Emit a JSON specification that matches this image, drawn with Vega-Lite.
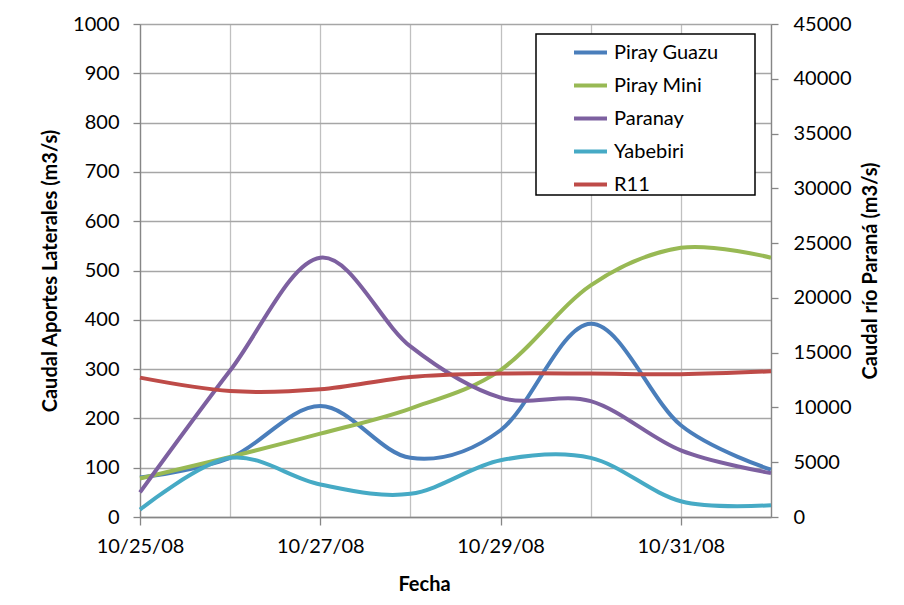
{
  "$schema": "https://vega.github.io/schema/vega-lite/v6.json",
  "width": 631,
  "height": 493,
  "autosize": "none",
  "padding": {"left": 140, "top": 24, "right": 133, "bottom": 88},
  "background": "white",
  "config": {
    "font": "Lato",
    "view": {"stroke": null},
    "axis": {
      "labelFont": "Lato",
      "titleFont": "Lato",
      "labelFontSize": 20,
      "titleFontSize": 20,
      "titleFontWeight": "bold",
      "labelColor": "#000000",
      "titleColor": "#000000",
      "domainColor": "#868686",
      "tickColor": "#868686",
      "domainWidth": 1.3,
      "tickWidth": 1.3
    }
  },
  "data": {
    "values": [
      {"date": "2008/10/25", "series": "Piray Guazu", "value": 80},
      {"date": "2008/10/26", "series": "Piray Guazu", "value": 120},
      {"date": "2008/10/27", "series": "Piray Guazu", "value": 225},
      {"date": "2008/10/28", "series": "Piray Guazu", "value": 120},
      {"date": "2008/10/29", "series": "Piray Guazu", "value": 176},
      {"date": "2008/10/30", "series": "Piray Guazu", "value": 392},
      {"date": "2008/10/31", "series": "Piray Guazu", "value": 186},
      {"date": "2008/11/01", "series": "Piray Guazu", "value": 96},
      {"date": "2008/10/25", "series": "Piray Mini", "value": 78},
      {"date": "2008/10/26", "series": "Piray Mini", "value": 122},
      {"date": "2008/10/27", "series": "Piray Mini", "value": 169},
      {"date": "2008/10/28", "series": "Piray Mini", "value": 220},
      {"date": "2008/10/29", "series": "Piray Mini", "value": 298},
      {"date": "2008/10/30", "series": "Piray Mini", "value": 470},
      {"date": "2008/10/31", "series": "Piray Mini", "value": 546},
      {"date": "2008/11/01", "series": "Piray Mini", "value": 526},
      {"date": "2008/10/25", "series": "Paranay", "value": 50},
      {"date": "2008/10/26", "series": "Paranay", "value": 297},
      {"date": "2008/10/27", "series": "Paranay", "value": 526},
      {"date": "2008/10/28", "series": "Paranay", "value": 346},
      {"date": "2008/10/29", "series": "Paranay", "value": 242},
      {"date": "2008/10/30", "series": "Paranay", "value": 235},
      {"date": "2008/10/31", "series": "Paranay", "value": 135},
      {"date": "2008/11/01", "series": "Paranay", "value": 89},
      {"date": "2008/10/25", "series": "Yabebiri", "value": 15},
      {"date": "2008/10/26", "series": "Yabebiri", "value": 120},
      {"date": "2008/10/27", "series": "Yabebiri", "value": 66},
      {"date": "2008/10/28", "series": "Yabebiri", "value": 47},
      {"date": "2008/10/29", "series": "Yabebiri", "value": 115},
      {"date": "2008/10/30", "series": "Yabebiri", "value": 120},
      {"date": "2008/10/31", "series": "Yabebiri", "value": 32},
      {"date": "2008/11/01", "series": "Yabebiri", "value": 24},
      {"date": "2008/10/25", "series": "R11", "value": 12720},
      {"date": "2008/10/26", "series": "R11", "value": 11500},
      {"date": "2008/10/27", "series": "R11", "value": 11650},
      {"date": "2008/10/28", "series": "R11", "value": 12780},
      {"date": "2008/10/29", "series": "R11", "value": 13090},
      {"date": "2008/10/30", "series": "R11", "value": 13090},
      {"date": "2008/10/31", "series": "R11", "value": 13030},
      {"date": "2008/11/01", "series": "R11", "value": 13300}
    ]
  },
  "layer": [
    {
      "transform": [{"filter": "datum.series !== 'R11'"}],
      "mark": {"type": "line", "interpolate": "cardinal", "strokeWidth": 4},
      "encoding": {
        "x": {
          "field": "date",
          "type": "temporal",
          "scale": {"domain": [{"year": 2008, "month": 10, "date": 25}, {"year": 2008, "month": 11, "date": 1}]},
          "axis": {
            "values": [
              {"year": 2008, "month": 10, "date": 25},
              {"year": 2008, "month": 10, "date": 26},
              {"year": 2008, "month": 10, "date": 27},
              {"year": 2008, "month": 10, "date": 28},
              {"year": 2008, "month": 10, "date": 29},
              {"year": 2008, "month": 10, "date": 30},
              {"year": 2008, "month": 10, "date": 31},
              {"year": 2008, "month": 11, "date": 1}
            ],
            "labelExpr": "dayofyear(datum.value) % 2 == 1 ? timeFormat(datum.value, '%m/%d/%y') : ''",
            "tickOpacity": {"condition": {"test": "dayofyear(datum.value) % 2 == 1", "value": 1}, "value": 0},
            "grid": true,
            "gridColor": "#c0c0c0",
            "gridWidth": 1.3,
            "tickSize": 8,
            "labelPadding": 11,
            "labelFlush": false,
            "labelOverlap": false,
            "title": "Fecha",
            "titleX": 284,
            "titleY": 73,
            "titleBaseline": "alphabetic"
          }
        },
        "y": {
          "field": "value",
          "type": "quantitative",
          "scale": {"domain": [0, 1000]},
          "axis": {
            "values": [0, 100, 200, 300, 400, 500, 600, 700, 800, 900, 1000],
            "format": "d",
            "grid": true,
            "gridColor": "#a6a6a6",
            "gridWidth": 1.3,
            "tickSize": 7,
            "labelPadding": 14,
            "title": "Caudal Aportes Laterales (m3/s)",
            "titlePadding": 12
          }
        },
        "color": {
          "field": "series",
          "type": "nominal",
          "scale": {
            "domain": ["Piray Guazu", "Piray Mini", "Paranay", "Yabebiri", "R11"],
            "range": ["#4A7EBB", "#98B954", "#7D60A0", "#46AAC5", "#BE4B48"]
          },
          "legend": {
            "title": "\u00a0",
            "titleOrient": "right",
            "titlePadding": 36,
            "titleFontSize": 20,
            "orient": "none",
            "legendX": 396,
            "legendY": 10,
            "strokeColor": "#000000",
            "fillColor": "#ffffff",
            "padding": 0,
            "symbolType": "stroke",
            "symbolSize": 1089,
            "symbolStrokeWidth": 4,
            "symbolOffset": 36,
            "labelOffset": 5,
            "labelFont": "Lato",
            "labelFontSize": 20,
            "labelColor": "#000000",
            "rowPadding": 4,
            "encode": {"legend": {"update": {"strokeWidth": {"value": 1.5}}}}
          }
        }
      }
    },
    {
      "transform": [{"filter": "datum.series === 'R11'"}],
      "mark": {"type": "line", "interpolate": "cardinal", "strokeWidth": 4},
      "encoding": {
        "x": {"field": "date", "type": "temporal"},
        "y": {
          "field": "value",
          "type": "quantitative",
          "scale": {"domain": [0, 45000]},
          "axis": {
            "orient": "right",
            "values": [0, 5000, 10000, 15000, 20000, 25000, 30000, 35000, 40000, 45000],
            "format": "d",
            "grid": false,
            "tickSize": 7,
            "labelPadding": 15,
            "title": "Caudal río Paraná (m3/s)",
            "titleAngle": 270,
            "titleBaseline": "top",
            "titlePadding": 10
          }
        },
        "color": {
          "field": "series",
          "type": "nominal",
          "scale": {
            "domain": ["Piray Guazu", "Piray Mini", "Paranay", "Yabebiri", "R11"],
            "range": ["#4A7EBB", "#98B954", "#7D60A0", "#46AAC5", "#BE4B48"]
          }
        }
      }
    }
  ],
  "resolve": {"scale": {"y": "independent"}}
}
